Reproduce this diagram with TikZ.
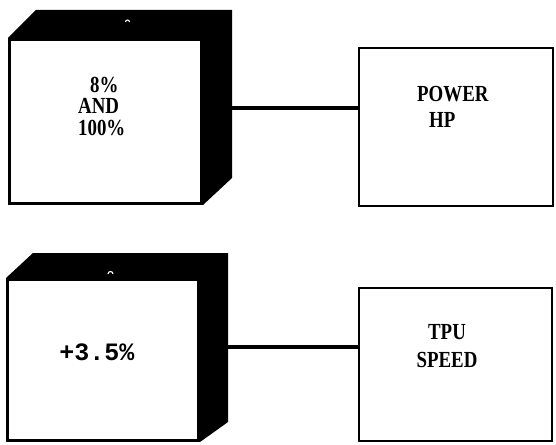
\documentclass[tikz,border=0pt]{standalone}
\usepackage{fontspec}
\setmainfont[FakeStretch=0.82]{Liberation Serif}
\newfontfamily\typefont{Liberation Mono}
\usepackage{tikz}
\usetikzlibrary{positioning,backgrounds}

\begin{document}
\begin{tikzpicture}[
    x=1pt, y=-1pt,
    face/.style={rectangle, draw, line width=3pt, fill=white, inner sep=0pt},
    plain/.style={rectangle, draw, line width=2.2pt, fill=white, inner sep=0pt},
    solid3d/.style={fill=black},
    lbl/.style={inner sep=0pt, font=\bfseries\fontsize{23}{21.5}\selectfont},
    link/.style={line width=3.5pt},
    tick/.style={white, line width=1.1pt}
]
\useasboundingbox (0,0) rectangle (556,444);

% Front faces
\node[face, minimum width=192pt, minimum height=164pt] (f1) at (105.5,121.5) {};
\node[face, minimum width=191pt, minimum height=161pt] (f2) at (103,360) {};

% Output boxes
\node[plain, minimum width=194pt, minimum height=158pt] (r1) at (456,127) {};
\node[plain, minimum width=193pt, minimum height=153pt] (r2) at (455.5,364.5) {};

% Solid backs
\begin{scope}[on background layer]
\fill[solid3d] (f1.north west) -- ++(28,-28) -- ([shift={(29,-28)}]f1.north east)
    -- ([shift={(29,-27)}]f1.south east) -- (f1.south east) -- cycle;
\fill[solid3d] (f2.north west) -- ++(27,-25) -- ([shift={(28,-25)}]f2.north east)
    -- ([shift={(28,-20)}]f2.south east) -- (f2.south east) -- cycle;
\end{scope}

% Small marks on top
\draw[tick] (125.5,22) arc (180:360:2);
\draw[tick] (108,274) arc (180:360:2.5);

% Texts
\node[lbl, anchor=north west, align=left] (t1) at (78,77) {\hspace*{12pt}8\%\\AND\\100\%};
\node[inner sep=0pt, font=\typefont\bfseries\fontsize{25}{28}\selectfont] (t2) at (97,352) {+3.5\%};
\node[lbl, font=\bfseries\fontsize{23}{26}\selectfont, anchor=north west, align=left] (t3) at (417,86) {POWER\\\hspace*{12pt}HP};
\node[lbl, font=\bfseries\fontsize{23}{28}\selectfont, align=center] (t4) at (447,346) {TPU\\SPEED};

% Edges
\coordinate (j1) at (232,108);
\coordinate (j2) at (228,347);
\draw[link] (j1) -- (j1 -| r1.west);
\draw[link] (j2) -- (j2 -| r2.west);

\end{tikzpicture}
\end{document}
